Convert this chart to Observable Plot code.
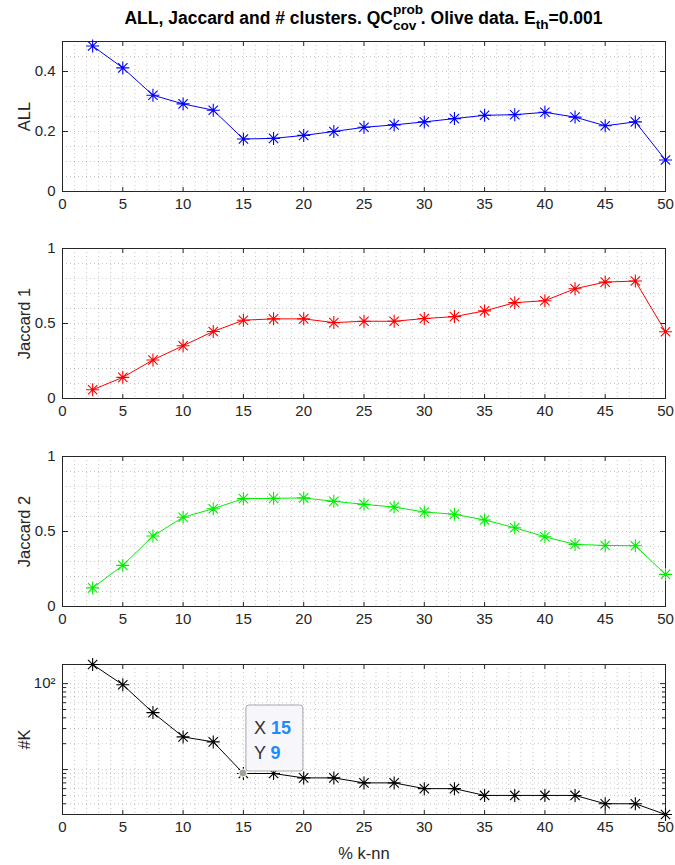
<!DOCTYPE html>
<html>
<head>
<meta charset="utf-8">
<script src="https://cdn.jsdelivr.net/npm/d3@7"></script>
<script src="https://cdn.jsdelivr.net/npm/@observablehq/plot@0.6"></script>
<style>
  html, body { margin: 0; padding: 0; background: #fff; }
  #chart { position: relative; width: 675px; height: 865px; font-family: "Liberation Sans", Arial, Helvetica, sans-serif; }
  #title { position: absolute; left: 62px; width: 603px; top: 8px; text-align: center; font-weight: bold; font-size: 17.5px; line-height: 20px; color: #000; white-space: nowrap; }
  .ss { display: inline-block; position: relative; width: 2.05em; height: 1em; font-size: 0.78em; vertical-align: baseline; }
  .ss .sp { position: absolute; left: 0; top: -0.55em; line-height: 1em; }
  .ss .sb { position: absolute; left: 0; top: 0.6em; line-height: 1em; }
  .sub { font-size: 0.78em; position: relative; top: 0.4em; }
  .panel { position: absolute; left: 0; }
</style>
</head>
<body>
<div id="chart">
  <div id="title">ALL, Jaccard and # clusters. QC<span class="ss"><span class="sp">prob</span><span class="sb">cov</span></span>. Olive data. E<span class="sub">th</span>=0.001</div>
</div>
<script>
// ---- data ----
const knn = [2.5, 5, 7.5, 10, 12.5, 15, 17.5, 20, 22.5, 25, 27.5, 30, 32.5, 35, 37.5, 40, 42.5, 45, 47.5, 50];
const allValues = [0.485, 0.412, 0.321, 0.292, 0.271, 0.175, 0.177, 0.187, 0.200, 0.214, 0.222, 0.232, 0.243, 0.254, 0.256, 0.264, 0.248, 0.219, 0.232, 0.105];
const jaccard1 = [0.058, 0.141, 0.257, 0.352, 0.447, 0.522, 0.531, 0.531, 0.506, 0.515, 0.515, 0.533, 0.546, 0.584, 0.639, 0.652, 0.732, 0.776, 0.783, 0.445];
const jaccard2 = [0.124, 0.274, 0.470, 0.595, 0.652, 0.719, 0.721, 0.724, 0.701, 0.681, 0.663, 0.630, 0.615, 0.577, 0.525, 0.465, 0.414, 0.407, 0.405, 0.214];
const numClusters = [167, 97, 46, 24, 21, 9, 9, 8, 8, 7, 7, 6, 6, 5, 5, 5, 5, 4, 4, 3];

const xTicks = [0, 5, 10, 15, 20, 25, 30, 35, 40, 45, 50];
const xMinor = d3.range(0, 51, 1);
const allTicks = [0, 0.2, 0.4];
const allMinor = d3.range(0, 0.5001, 0.05).map(v => +v.toFixed(2));
const jacTicks = [0, 0.5, 1];
const jacMinor = d3.range(0, 1.0001, 0.1).map(v => +v.toFixed(1));
const kMajor = [10, 100];
const kMinor = [3, 4, 5, 6, 7, 8, 9, 20, 30, 40, 50, 60, 70, 80, 90];
const kLabels = {100: "10\u00B2"};

const tipX = 15, tipY = 9;
const tipLabels = ["X", "Y"];

// ---- layout ----
const W = 675, ML = 62, MR = 10, FH = 150, MT = 20;
const FW = W - ML - MR;
const frameTops = [40.5, 248, 456, 664];
const axisColor = "#262626";
const font = "'Liberation Sans', Arial, Helvetica, sans-serif";

const asterisk = {
  draw(ctx, size) {
    const r = Math.sqrt(size / Math.PI);
    const d = r * 0.72;
    ctx.moveTo(0, -r); ctx.lineTo(0, r);
    ctx.moveTo(-r, 0); ctx.lineTo(r, 0);
    ctx.moveTo(-d, -d); ctx.lineTo(d, d);
    ctx.moveTo(-d, d); ctx.lineTo(d, -d);
  }
};

function gridMarks(yMinor) {
  return [
    Plot.ruleX(xMinor, {stroke: axisColor, strokeOpacity: 0.25, strokeDasharray: "1,3"}),
    Plot.ruleY(yMinor, {stroke: axisColor, strokeOpacity: 0.25, strokeDasharray: "1,3"})
  ];
}

function xAxisMarks(showLabel) {
  const m = [
    Plot.axisX({ticks: xTicks, tickSize: 0, tickPadding: 7, fontSize: 15, label: null, tickFormat: d => String(d)}),
    Plot.axisX({anchor: "top", ticks: xTicks, tickSize: 5, dy: FH, label: null, tickFormat: () => "", stroke: axisColor}),
    Plot.axisX({anchor: "bottom", ticks: xTicks, tickSize: 5, dy: -FH, label: null, tickFormat: () => "", stroke: axisColor})
  ];
  if (showLabel) {
    m.push(Plot.text(["% k-nn"], {frameAnchor: "bottom", text: d => d, dy: 39, fontSize: 16.5, fill: axisColor, lineAnchor: "middle"}));
  }
  return m;
}

function yAxisMarks(ticks, fmt, label, minor) {
  const m = [
    Plot.axisY({ticks, tickSize: 0, tickPadding: 7, fontSize: 15, label: null, tickFormat: fmt}),
    Plot.axisY({anchor: "right", ticks, tickSize: 5, dx: -FW, label: null, tickFormat: () => "", stroke: axisColor}),
    Plot.axisY({anchor: "left", ticks, tickSize: 5, dx: FW, label: null, tickFormat: () => "", stroke: axisColor}),
    Plot.text([label], {frameAnchor: "left", text: d => d, rotate: -90, dx: -38, fontSize: 16.5, fill: axisColor, textAnchor: "middle"})
  ];
  if (minor) {
    m.push(Plot.axisY({anchor: "right", ticks: minor, tickSize: 3, dx: -FW, label: null, tickFormat: () => "", stroke: axisColor}));
    m.push(Plot.axisY({anchor: "left", ticks: minor, tickSize: 3, dx: FW, label: null, tickFormat: () => "", stroke: axisColor}));
  }
  return m;
}

function seriesMarks(values, color) {
  const data = knn.map((x, i) => ({x, y: values[i]}));
  return [
    Plot.line(data, {x: "x", y: "y", stroke: color, strokeWidth: 1}),
    Plot.dot(data, {x: "x", y: "y", symbol: asterisk, r: 6.5, stroke: color, strokeWidth: 1.1, fill: "none"})
  ];
}

function panel(i, yOpts, yMinor, yTicks, fmt, label, values, color, last, minorTicks) {
  const MB = last ? 51 : 37;
  const plot = Plot.plot({
    width: W, height: MT + FH + MB,
    marginLeft: ML, marginRight: MR, marginTop: MT, marginBottom: MB,
    x: {domain: [0, 50]},
    y: yOpts,
    style: {fontFamily: font, fontSize: "15px", color: axisColor, background: "transparent", overflow: "visible"},
    marks: [
      ...gridMarks(yMinor),
      Plot.frame({stroke: axisColor, strokeWidth: 1}),
      ...xAxisMarks(last),
      ...yAxisMarks(yTicks, fmt, label, minorTicks),
      ...seriesMarks(values, color)
    ]
  });
  plot.classList.add("panel");
  plot.style.top = (frameTops[i] - MT) + "px";
  plot.style.position = "absolute";
  document.getElementById("chart").appendChild(plot);
  return plot;
}

panel(0, {domain: [0, 0.5]}, allMinor, allTicks, d => String(d), "ALL", allValues, "#0000ff", false);
panel(1, {domain: [0, 1]}, jacMinor, jacTicks, d => String(d), "Jaccard 1", jaccard1, "#ff0000", false);
panel(2, {domain: [0, 1]}, jacMinor, jacTicks, d => String(d), "Jaccard 2", jaccard2, "#00ee00", false);
const p4 = panel(3, {type: "log", domain: [3, 167]}, kMinor.concat(kMajor), kMajor, d => kLabels[d] || "", "#K", numClusters, "#000000", true, kMinor);

// ---- data tip on the #K panel ----
const sx = p4.scale("x"), sy = p4.scale("y");
const fx = sx.apply ? sx.apply : d3.scaleLinear([0, 50], [ML, W - MR]);
const fy = sy.apply ? sy.apply : d3.scaleLog([3, 167], [MT + FH, MT]);
const px = fx(tipX), py = fy(tipY);
const g = d3.select(p4).append("g").attr("text-anchor", "start");
g.append("rect").attr("x", px + 3).attr("y", py - 68).attr("width", 57).attr("height", 66)
  .attr("rx", 3).attr("fill", "#f7f7fb").attr("stroke", "#a6a6a6").attr("stroke-width", 1);
[[tipLabels[0], tipX], [tipLabels[1], tipY]].forEach(([lab, val], k) => {
  const t = g.append("text").attr("x", px + 11).attr("y", py - 39 + k * 25)
    .attr("text-anchor", "start").attr("font-family", font).attr("font-size", 18);
  t.append("tspan").attr("fill", "#333").text(lab + " ");
  t.append("tspan").attr("fill", "#1a8cff").attr("font-weight", "bold").text(String(val));
});
g.append("circle").attr("cx", px).attr("cy", py).attr("r", 4).attr("fill", "#a0a0a0").attr("stroke", "#fffbe6").attr("stroke-width", 1);
</script>
</body>
</html>
